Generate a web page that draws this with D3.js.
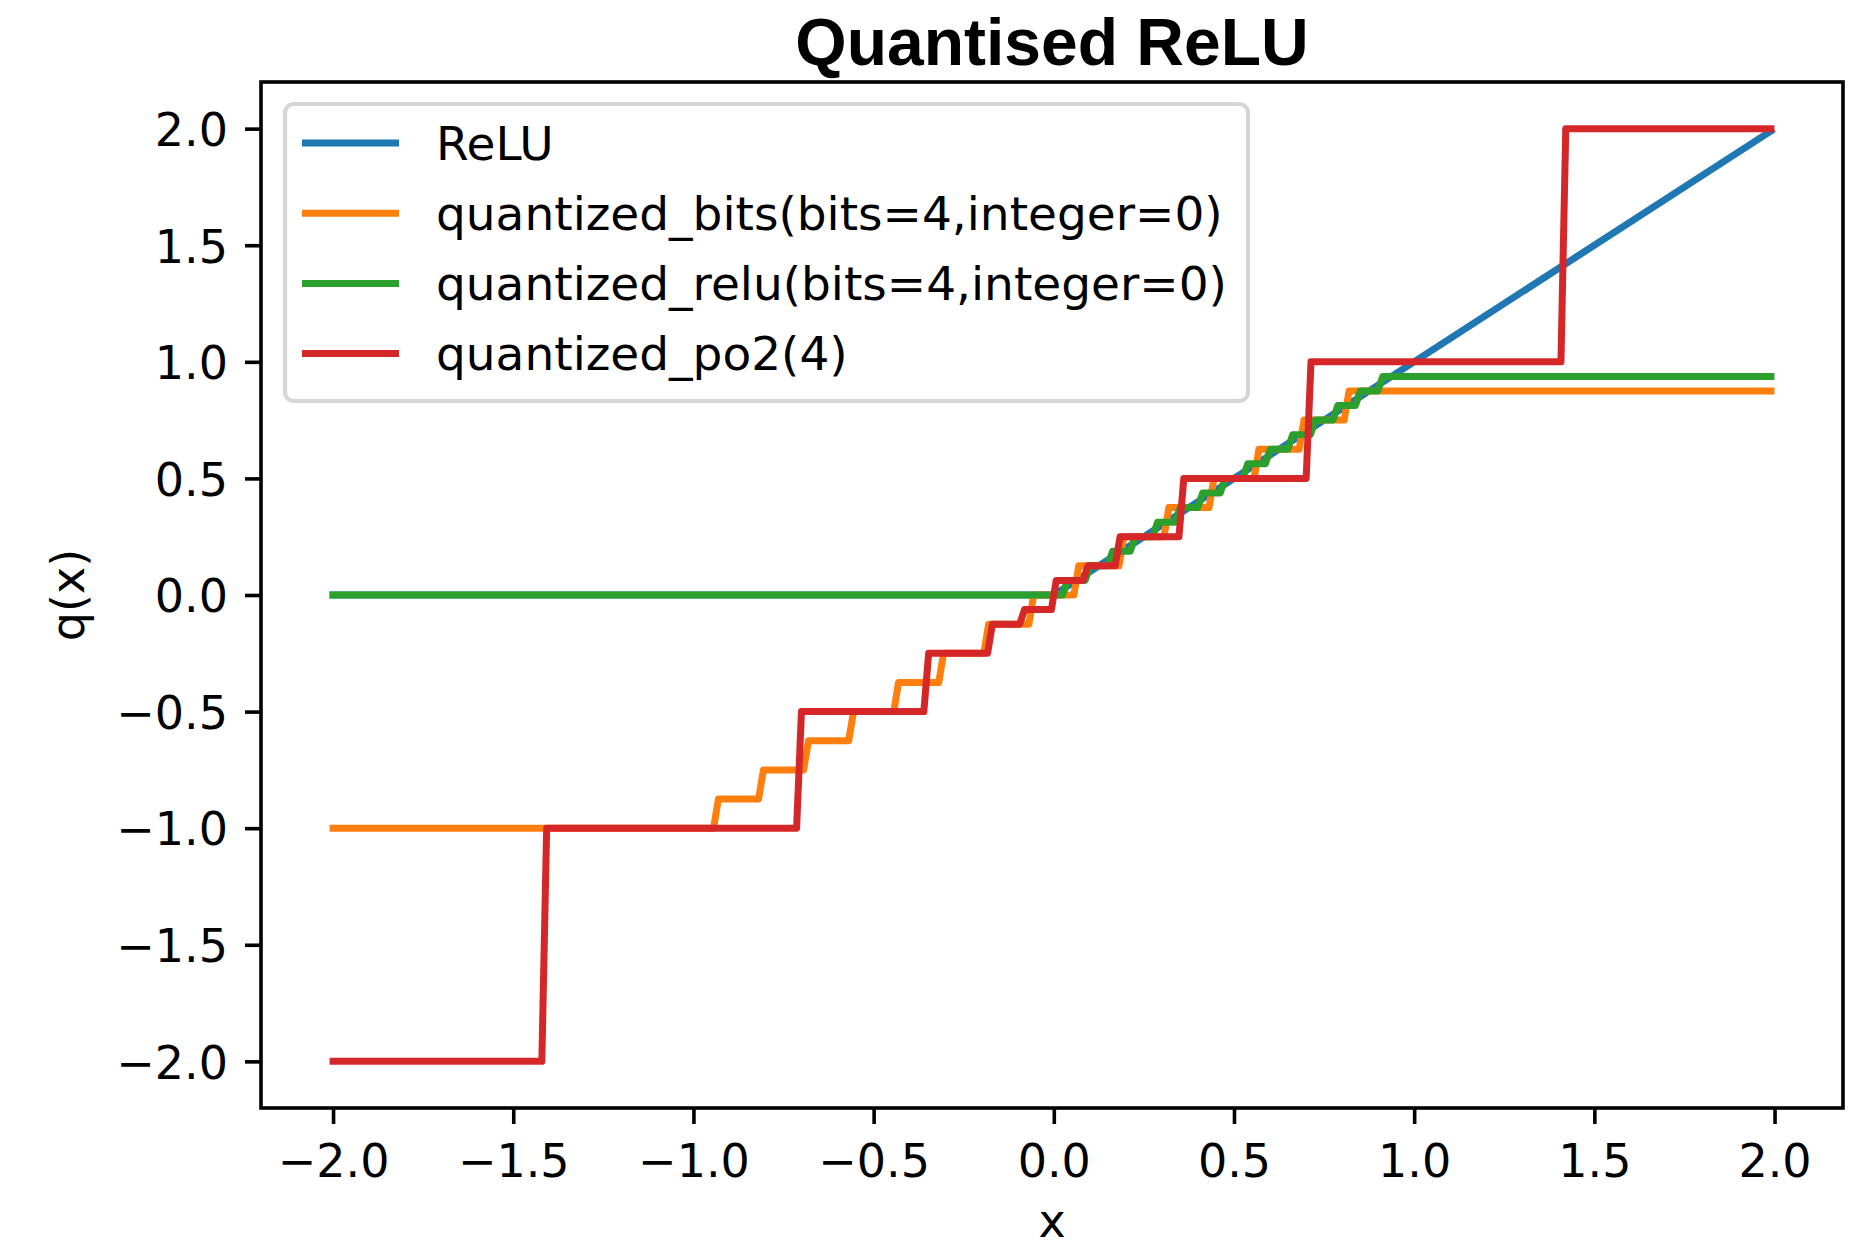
<!DOCTYPE html>
<html>
<head>
<meta charset="utf-8">
<script src="https://cdn.jsdelivr.net/npm/d3@7"></script>
<style>
  body { margin: 0; background: #fff; }
  svg { display: block; }
</style>
</head>
<body>
<div id="chart"></div>
<script>
// values
var xTicks = [-2.0, -1.5, -1.0, -0.5, 0.0, 0.5, 1.0, 1.5, 2.0];
var yTicks = [-2.0, -1.5, -1.0, -0.5, 0.0, 0.5, 1.0, 1.5, 2.0];

var xStart = -2.0, xEnd = 1.99;

// ReLU
var reluX = [-2.0, 0.0, 1.99];
var reluY = [0.0, 0.0, 1.99];

// quantized_bits(bits=4,integer=0)
var bitsEdges = [-0.9375, -0.8125, -0.6875, -0.5625, -0.4375, -0.3125, -0.1875, -0.0625,
                 0.0625, 0.1875, 0.3125, 0.4375, 0.5625, 0.6875, 0.8125];
var bitsLevels = [-1.0, -0.875, -0.75, -0.625, -0.5, -0.375, -0.25, -0.125,
                  0.0, 0.125, 0.25, 0.375, 0.5, 0.625, 0.75, 0.875];

// quantized_relu(bits=4,integer=0)
var qreluEdges = [0.03125, 0.09375, 0.15625, 0.21875, 0.28125, 0.34375, 0.40625, 0.46875,
                  0.53125, 0.59375, 0.65625, 0.71875, 0.78125, 0.84375, 0.90625];
var qreluLevels = [0.0, 0.0625, 0.125, 0.1875, 0.25, 0.3125, 0.375, 0.4375,
                   0.5, 0.5625, 0.625, 0.6875, 0.75, 0.8125, 0.875, 0.9375];

// quantized_po2(4)
var po2Edges = [-1.414, -0.707, -0.354, -0.177, -0.088, 0.0, 0.088, 0.177, 0.354, 0.707, 1.414];
var po2Levels = [-2.0, -1.0, -0.5, -0.25, -0.125, -0.0625, 0.0625, 0.125, 0.25, 0.5, 1.0, 2.0];

var seriesNames = ['ReLU', 'quantized_bits(bits=4,integer=0)', 'quantized_relu(bits=4,integer=0)', 'quantized_po2(4)'];
var colors = ['#1f77b4', '#ff7f0e', '#2ca02c', '#d62728'];

var W = 1856, H = 1246;
var margin = {left: 261, right: 1843, top: 82, bottom: 1108};
var tickFont = 46, legendFont = 47;
var font = '"DejaVu Sans", sans-serif';
var halfStep = 0.0067; // risers are drawn between neighbouring samples

function stepPoints(edges, levels){
    var pts = [[xStart, levels[0]]];
    edges.forEach(function(e, i){
        pts.push([e - halfStep, levels[i]]);
        pts.push([e + halfStep, levels[i + 1]]);
    });
    pts.push([xEnd, levels[levels.length - 1]]);
    return pts;
}

var lines = [
    reluX.map(function(d, i){ return [d, reluY[i]]; }),
    stepPoints(bitsEdges, bitsLevels),
    stepPoints(qreluEdges, qreluLevels),
    stepPoints(po2Edges, po2Levels)
];

var svg = d3.select('#chart').append('svg')
    .attr('width', W).attr('height', H)
    .style('font-family', font);

svg.append('rect').attr('width', W).attr('height', H).attr('fill', '#fff');

var x = d3.scaleLinear().domain([-2.2, 2.19]).range([margin.left, margin.right]);
var y = d3.scaleLinear().domain([-2.2, 2.2]).range([margin.bottom, margin.top]);

var fmt = d3.format('.1f'); // d3 already uses the unicode minus

// lines
var line = d3.line()
    .x(function(d){ return x(d[0]); })
    .y(function(d){ return y(d[1]); });

svg.append('g').selectAll('path')
    .data(lines)
    .enter()
    .append('path')
    .attr('d', line)
    .attr('fill', 'none')
    .attr('stroke', function(d, i){ return colors[i]; })
    .attr('stroke-width', 7)
    .attr('stroke-linejoin', 'round')
    .attr('stroke-linecap', 'square');

// axes
var xAxis = svg.append('g')
    .attr('transform', 'translate(0,' + margin.bottom + ')')
    .call(d3.axisBottom(x).tickValues(xTicks).tickSize(16).tickPadding(0).tickFormat(fmt))
    .attr('font-family', font)
    .attr('font-size', tickFont);
xAxis.select('.domain').remove();
xAxis.selectAll('line').attr('stroke', '#000').attr('stroke-width', 3.6);
xAxis.selectAll('text')
    .attr('fill', '#000')
    .attr('dy', null)
    .attr('y', 69);

var yAxis = svg.append('g')
    .attr('transform', 'translate(' + margin.left + ',0)')
    .call(d3.axisLeft(y).tickValues(yTicks).tickSize(16).tickPadding(0).tickFormat(fmt))
    .attr('font-family', font)
    .attr('font-size', tickFont);
yAxis.select('.domain').remove();
yAxis.selectAll('line').attr('stroke', '#000').attr('stroke-width', 3.6);
yAxis.selectAll('text')
    .attr('fill', '#000')
    .attr('dy', null)
    .attr('x', -33)
    .attr('y', 16.8);

// frame
svg.append('rect')
    .attr('x', margin.left).attr('y', margin.top)
    .attr('width', margin.right - margin.left).attr('height', margin.bottom - margin.top)
    .attr('fill', 'none')
    .attr('stroke', '#000')
    .attr('stroke-width', 3.6);

// axis labels + title
svg.append('text')
    .attr('x', (margin.left + margin.right) / 2)
    .attr('y', 1237)
    .attr('text-anchor', 'middle')
    .attr('font-size', tickFont)
    .text('x');

svg.append('text')
    .attr('transform', 'translate(84,' + ((margin.top + margin.bottom) / 2) + ') rotate(-90)')
    .attr('text-anchor', 'middle')
    .attr('font-size', tickFont)
    .text('q(x)');

svg.append('text')
    .attr('x', (margin.left + margin.right) / 2)
    .attr('y', 65)
    .attr('text-anchor', 'middle')
    .attr('font-family', '"Liberation Sans", Arial, sans-serif')
    .attr('font-weight', 'bold')
    .attr('font-size', 66)
    .text('Quantised ReLU');

// legend
var legend = svg.append('g').attr('class', 'legend');
legend.append('rect')
    .attr('x', 285).attr('y', 104)
    .attr('width', 963).attr('height', 297)
    .attr('rx', 9).attr('ry', 9)
    .attr('fill', '#fff')
    .attr('fill-opacity', 0.8)
    .attr('stroke', '#d6d6d6')
    .attr('stroke-width', 4.2);

var lg = legend.selectAll('g.item')
    .data(seriesNames)
    .enter()
    .append('g')
    .attr('class', 'item')
    .attr('transform', function(d, i){ return 'translate(0,' + (143 + i * 70.2) + ')'; });

lg.append('line')
    .attr('x1', 302).attr('x2', 399)
    .attr('y1', 0).attr('y2', 0)
    .attr('stroke', function(d, i){ return colors[i]; })
    .attr('stroke-width', 7)
    .attr('stroke-linecap', 'butt');

lg.append('text')
    .attr('x', 436)
    .attr('y', 16.5)
    .attr('font-size', legendFont)
    .attr('fill', '#000')
    .text(function(d){ return d; });
</script>
</body>
</html>
